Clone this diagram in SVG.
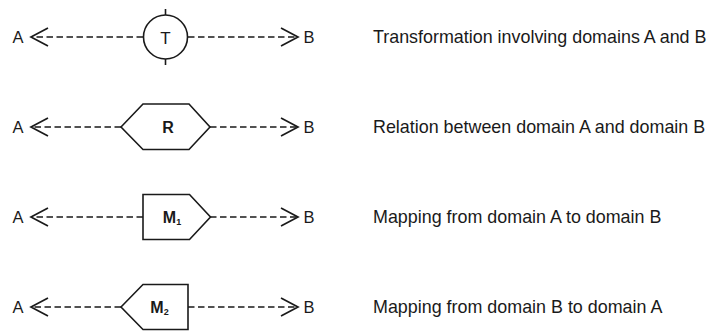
<svg xmlns="http://www.w3.org/2000/svg" width="709" height="331" viewBox="0 0 709 331">
  <style>
    .shape { fill: #ffffff; stroke: #1a1a1a; stroke-width: 1.6; stroke-linejoin: miter; }
    .tick { stroke: #1a1a1a; stroke-width: 1.6; }
    .link { fill: none; stroke: #1a1a1a; stroke-width: 1.5; stroke-dasharray: 6.5 3.5; marker-end: url(#open-arrow); }
    .end { font-family: "Liberation Sans", Arial, sans-serif; font-size: 16.5px; fill: #1a1a1a; }
    .sym { font-family: "Liberation Sans", Arial, sans-serif; font-size: 17px; fill: #1a1a1a; text-anchor: middle; }
    .bold { font-weight: bold; font-size: 16px; }
    .sub { font-size: 9px; }
    .desc { font-family: "Liberation Sans", Arial, sans-serif; font-size: 17.9px; fill: #1a1a1a; }
  </style>
  <defs>
    <marker id="open-arrow" viewBox="-19 -11 21 22" refX="0" refY="0" markerWidth="21" markerHeight="22" markerUnits="userSpaceOnUse" orient="auto">
      <path d="M-17,-9 L0,0 L-17,9" fill="none" stroke="#1a1a1a" stroke-width="1.7"/>
    </marker>
  </defs>
  <rect width="709" height="331" fill="#ffffff"/>

  <!-- dashed connectors from each symbol out to domains A and B -->
  <g id="connectors">
    <line class="link" x1="143" y1="37" x2="31" y2="37"/>
    <line class="link" x1="188" y1="37" x2="298" y2="37"/>
    <line class="link" x1="121" y1="127" x2="31" y2="127"/>
    <line class="link" x1="210" y1="127" x2="298" y2="127"/>
    <line class="link" x1="143" y1="217" x2="31" y2="217"/>
    <line class="link" x1="210" y1="217" x2="298" y2="217"/>
    <line class="link" x1="121" y1="307" x2="31" y2="307"/>
    <line class="link" x1="188" y1="307" x2="298" y2="307"/>
  </g>

  <!-- transformation: circle with ticks -->
  <g id="node-T">
    <line class="tick" x1="165.5" y1="9" x2="165.5" y2="15"/>
    <line class="tick" x1="165.5" y1="59" x2="165.5" y2="65"/>
    <circle class="shape" cx="165.5" cy="37" r="22"/>
    <text class="sym" x="165.5" y="44">T</text>
  </g>

  <!-- relation: hexagon -->
  <g id="node-R">
    <polygon class="shape" points="121,127 143,104 189,104 210,127 189,149.5 143,149.5"/>
    <text class="sym bold" x="168" y="133">R</text>
  </g>

  <!-- mapping A to B: pentagon pointing right -->
  <g id="node-M1">
    <polygon class="shape" points="143,194.5 189.5,194.5 210.5,217 189.5,239.5 143,239.5"/>
    <text class="sym bold" x="172" y="222.5">M<tspan class="sub" dy="2">1</tspan></text>
  </g>

  <!-- mapping B to A: pentagon pointing left -->
  <g id="node-M2">
    <polygon class="shape" points="121,307 143,284.5 188,284.5 188,329.5 143,329.5"/>
    <text class="sym bold" x="159.5" y="313">M<tspan class="sub" dy="2">2</tspan></text>
  </g>

  <!-- domain labels -->
  <g id="domains">
    <text class="end" x="12.5" y="43">A</text>
    <text class="end" x="303.5" y="43">B</text>
    <text class="end" x="12.5" y="133">A</text>
    <text class="end" x="303.5" y="133">B</text>
    <text class="end" x="12.5" y="223">A</text>
    <text class="end" x="303.5" y="223">B</text>
    <text class="end" x="12.5" y="313">A</text>
    <text class="end" x="303.5" y="313">B</text>
  </g>

  <!-- legend descriptions -->
  <g id="descriptions">
    <text class="desc" x="373" y="43">Transformation involving domains A and B</text>
    <text class="desc" x="373" y="133">Relation between domain A and domain B</text>
    <text class="desc" x="373" y="223">Mapping from domain A to domain B</text>
    <text class="desc" x="373" y="313">Mapping from domain B to domain A</text>
  </g>
</svg>
